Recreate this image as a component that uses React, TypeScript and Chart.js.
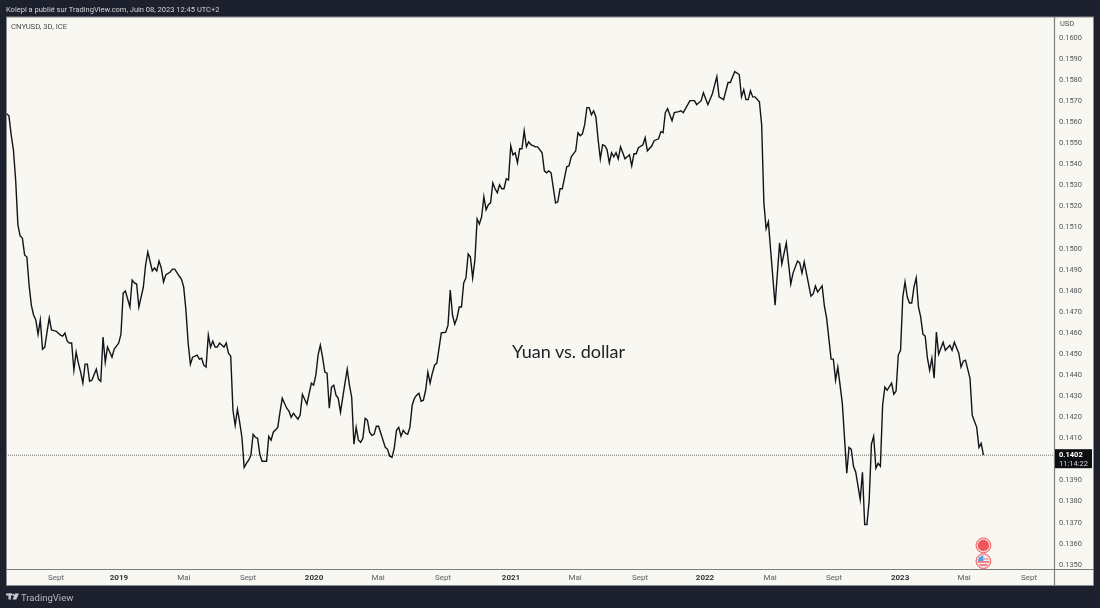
import React, { useEffect, useRef } from "react";
import { Chart, registerables } from "chart.js";

Chart.register(...registerables);

const barIndex = [
  0, 1, 2, 3, 4, 5, 6, 7, 8, 9, 10, 11, 12, 13, 14, 15, 16, 17, 18, 19, 20, 21, 22, 24, 25, 26, 27, 28, 29, 30,
  31, 32, 33, 34, 35, 36, 37, 38, 40, 41, 42, 43, 44, 45, 47, 48, 50, 51, 52, 53, 55, 56, 57, 58, 59, 61, 62, 63, 65, 66,
  67, 68, 69, 70, 71, 73, 74, 75, 77, 78, 79, 80, 81, 82, 83, 85, 86, 87, 88, 89, 90, 91, 92, 93, 94, 95, 97, 98, 99, 100,
  101, 102, 103, 104, 105, 106, 107, 108, 109, 110, 111, 112, 113, 114, 116, 117, 118, 119, 121, 122, 123, 125, 126, 127, 128, 130, 131, 132, 134, 136,
  137, 138, 139, 140, 141, 142, 143, 144, 145, 146, 147, 148, 149, 151, 152, 153, 154, 155, 156, 157, 158, 159, 160, 161, 162, 163, 164, 165, 166, 167,
  169, 170, 171, 172, 173, 174, 175, 176, 177, 178, 179, 180, 181, 182, 183, 184, 185, 186, 187, 188, 189, 190, 191, 192, 193, 194, 196, 197, 198, 199,
  200, 201, 202, 203, 204, 205, 206, 207, 208, 209, 210, 211, 212, 213, 214, 215, 216, 217, 218, 219, 220, 221, 222, 223, 224, 225, 226, 227, 228, 229,
  230, 231, 232, 233, 234, 236, 237, 239, 240, 241, 242, 243, 244, 245, 246, 247, 248, 250, 251, 252, 254, 255, 256, 257, 258, 259, 260, 261, 262, 263,
  264, 265, 266, 267, 268, 269, 270, 271, 272, 273, 274, 275, 276, 278, 279, 280, 281, 282, 284, 285, 286, 288, 289, 291, 292, 293, 294, 295, 297, 298,
  300, 301, 302, 303, 305, 307, 308, 310, 311, 313, 315, 317, 318, 320, 322, 323, 325, 327, 328, 329, 330, 331, 332, 333, 334, 336, 337, 338, 339, 340,
  341, 343, 345, 346, 348, 350, 351, 353, 354, 355, 356, 359, 360, 361, 362, 364, 365, 366, 368, 369, 370, 371, 373, 375, 376, 377, 378, 379, 381, 382,
  383, 384, 385, 386, 387, 388, 389, 390, 391, 392, 393, 395, 396, 397, 398, 399, 400, 401, 402, 403, 404, 405, 406, 407, 408, 409, 410, 411, 412, 413,
  414, 415, 416, 418, 419, 421, 422, 423, 425, 426, 427, 428, 430, 431, 433, 434, 435, 436,
];

const closePrices = [
  0.1564, 0.1563, 0.1554, 0.15469, 0.15326, 0.15113, 0.1506, 0.1505, 0.1497, 0.1496, 0.14827, 0.14732, 0.14685, 0.14661, 0.14594, 0.14661, 0.14523, 0.14533, 0.14604, 0.14671, 0.14614, 0.14611, 0.14609, 0.1459, 0.14585, 0.14599, 0.14561, 0.14552, 0.14552, 0.14423,
  0.14509, 0.14457, 0.14414, 0.14362, 0.14452, 0.14452, 0.14371, 0.14376, 0.14428, 0.1438, 0.14371, 0.1458, 0.14461, 0.14533, 0.14485, 0.14523, 0.14552, 0.14594, 0.14789, 0.14799, 0.14723, 0.14851, 0.14837, 0.14832, 0.14723, 0.14817, 0.14922, 0.14984, 0.14894, 0.14908,
  0.14894, 0.14941, 0.14908, 0.14842, 0.14875, 0.14889, 0.14903, 0.14903, 0.1487, 0.14856, 0.14818, 0.14709, 0.14552, 0.14452, 0.14485, 0.14495, 0.14476, 0.1448, 0.14447, 0.14438, 0.1459, 0.14533, 0.14561, 0.14533, 0.14533, 0.14552, 0.14533, 0.14552, 0.14504, 0.1449,
  0.14233, 0.14162, 0.14238, 0.14176, 0.14105, 0.13962, 0.13981, 0.13996, 0.14019, 0.14119, 0.14105, 0.141, 0.14024, 0.13991, 0.13991, 0.1411, 0.14091, 0.14129, 0.14152, 0.14224, 0.1429, 0.14243, 0.14229, 0.142, 0.14219, 0.14191, 0.1421, 0.14309, 0.14262, 0.14362,
  0.14352, 0.144, 0.14495, 0.14542, 0.14485, 0.14414, 0.14409, 0.14243, 0.14343, 0.14352, 0.14305, 0.1429, 0.14224, 0.14362, 0.14428, 0.14352, 0.14295, 0.14072, 0.14152, 0.14091, 0.14081, 0.141, 0.14195, 0.14186, 0.14129, 0.14114, 0.14119, 0.14157, 0.14157, 0.14124,
  0.14057, 0.14048, 0.14015, 0.1401, 0.14053, 0.14138, 0.14152, 0.1411, 0.14138, 0.14124, 0.14119, 0.14152, 0.14257, 0.1429, 0.14305, 0.14314, 0.14276, 0.14281, 0.14328, 0.14414, 0.14362, 0.14409, 0.14447, 0.14457, 0.14528, 0.146, 0.14604, 0.14637, 0.14804, 0.14685,
  0.14642, 0.14671, 0.14723, 0.14723, 0.14837, 0.14861, 0.14975, 0.1496, 0.14861, 0.14946, 0.15141, 0.15117, 0.15151, 0.15246, 0.15184, 0.15208, 0.15217, 0.15312, 0.15284, 0.15265, 0.15303, 0.15284, 0.15284, 0.15331, 0.15326, 0.15488, 0.15445, 0.15455, 0.15407, 0.15474,
  0.15474, 0.15559, 0.15483, 0.15507, 0.15493, 0.15483, 0.15483, 0.15455, 0.15369, 0.1536, 0.15369, 0.1536, 0.15288, 0.15217, 0.15222, 0.15284, 0.15284, 0.15388, 0.15393, 0.15436, 0.15464, 0.1555, 0.15536, 0.15545, 0.15588, 0.15669, 0.15669, 0.15635, 0.15654, 0.15626,
  0.15517, 0.15426, 0.15493, 0.15488, 0.15469, 0.15407, 0.15455, 0.15436, 0.15455, 0.15426, 0.15483, 0.15455, 0.15426, 0.15445, 0.15393, 0.1545, 0.1545, 0.15479, 0.15493, 0.15526, 0.15464, 0.15488, 0.15512, 0.15521, 0.15555, 0.1555, 0.15645, 0.15664, 0.15607, 0.15645,
  0.1565, 0.15654, 0.15645, 0.15664, 0.15702, 0.15702, 0.15683, 0.15702, 0.1574, 0.15683, 0.15735, 0.15816, 0.1572, 0.15707, 0.15788, 0.15788, 0.1584, 0.15826, 0.1572, 0.15754, 0.15707, 0.15707, 0.15749, 0.1572, 0.1572, 0.15697, 0.15588, 0.15217, 0.15094, 0.15127,
  0.14994, 0.14732, 0.15027, 0.14927, 0.15027, 0.14832, 0.14884, 0.14941, 0.14932, 0.14884, 0.14937, 0.14775, 0.14785, 0.14823, 0.14794, 0.14823, 0.14728, 0.1467, 0.14476, 0.14476, 0.14376, 0.14438, 0.14267, 0.13934, 0.14057, 0.14048, 0.13967, 0.13939, 0.1381, 0.13939,
  0.13691, 0.13691, 0.13805, 0.14072, 0.1411, 0.13958, 0.13981, 0.13967, 0.14257, 0.14343, 0.14328, 0.14362, 0.14309, 0.14324, 0.14495, 0.14518, 0.1477, 0.14842, 0.1477, 0.14742, 0.14742, 0.14818, 0.14861, 0.14723, 0.14675, 0.14594, 0.14585, 0.1448, 0.14423, 0.1448,
  0.14385, 0.14604, 0.14499, 0.14556, 0.14518, 0.14542, 0.14518, 0.14556, 0.14504, 0.14438, 0.14466, 0.14471, 0.14385, 0.14209, 0.14152, 0.14057, 0.14076, 0.1402,
];

const lastPrice = 0.1402;
const countdown = "11:14:22";
const xTickBars = [22, 50.1, 79.1, 107.7, 137.2, 165.8, 194.8, 225.1, 253.7, 282.7, 311.7, 340.8, 369.3, 398.8, 427.4, 456.4];
const xTickLabels = ["Sept", "2019", "Mai", "Sept", "2020", "Mai", "Sept", "2021", "Mai", "Sept", "2022", "Mai", "Sept", "2023", "Mai", "Sept"];
const eventBar = 436;
const eventPrices = [0.13592, 0.13517];

const FONT = "Roboto, 'Liberation Sans', sans-serif";
const DARK = "#1c212d";
const PANEL = "#f8f7f2";
const FRAME = "#8a8c90";

const framePlugin = {
  id: "frame",
  beforeDraw(chart: any) {
    const c = chart.ctx;
    c.save();
    c.fillStyle = DARK;
    c.fillRect(0, 0, 1100, 608);
    c.fillStyle = PANEL;
    c.fillRect(6, 17, 1088, 569);
    c.strokeStyle = FRAME;
    c.lineWidth = 1;
    c.strokeRect(6.5, 17, 1087, 568.5);
    c.restore();
  },
  afterDraw(chart: any) {
    const c = chart.ctx;
    const { x, y } = chart.scales;
    const { left, right, bottom } = chart.chartArea;
    c.save();
    c.strokeStyle = "#7b7d81";
    c.lineWidth = 1.2;
    c.beginPath();
    c.moveTo(left, bottom + 0.5);
    c.lineTo(1094, bottom + 0.5);
    c.moveTo(right + 0.5, 17);
    c.lineTo(right + 0.5, 585);
    c.stroke();

    const py = y.getPixelForValue(lastPrice);
    c.fillStyle = "#0c0e12";
    c.fillRect(right + 1, py - 6, 37, 19);
    c.textBaseline = "middle";
    c.textAlign = "left";
    c.fillStyle = "#ffffff";
    c.font = `bold 7.5px ${FONT}`;
    c.fillText(lastPrice.toFixed(4), 1059, py - 0.5);
    c.fillStyle = "#d6d6d6";
    c.font = `7.5px ${FONT}`;
    c.fillText(countdown, 1059, py + 8.5);

    c.fillStyle = "#4a4c50";
    c.fillText("USD", 1060, 24.5);

    const ex = x.getPixelForValue(eventBar);
    eventPrices.forEach((p, i) => {
      const ey = y.getPixelForValue(p);
      c.fillStyle = "#f6d3d3";
      c.beginPath();
      c.arc(ex, ey, 7.6, 0, Math.PI * 2);
      c.fill();
      c.strokeStyle = "#ef5d60";
      c.lineWidth = 1;
      c.beginPath();
      c.arc(ex, ey, 7.4, 0, Math.PI * 2);
      c.stroke();
      c.save();
      c.beginPath();
      c.arc(ex, ey, 5.6, 0, Math.PI * 2);
      c.clip();
      if (i === 0) {
        c.fillStyle = "#f0555a";
        c.fillRect(ex - 7, ey - 7, 14, 14);
      } else {
        c.fillStyle = "#f4f0f0";
        c.fillRect(ex - 7, ey - 7, 14, 14);
        c.fillStyle = "#ef5d60";
        c.fillRect(ex - 7, ey, 14, 1.5);
        c.fillRect(ex - 7, ey + 3, 14, 1.5);
        c.fillStyle = "#f09a9c";
        c.fillRect(ex, ey - 3, 7, 1.5);
        c.fillStyle = "#5a9fe8";
        c.fillRect(ex - 7, ey - 7, 7, 7);
      }
      c.restore();
    });

    // TradingView mark in the footer
    c.fillStyle = "#c9cbd0";
    c.fillRect(6, 593.5, 6, 2);
    c.fillRect(8.5, 593.5, 2.4, 6);
    c.beginPath();
    c.arc(13.2, 594.8, 1.1, 0, Math.PI * 2);
    c.fill();
    c.beginPath();
    c.moveTo(15, 593.5);
    c.lineTo(19, 593.5);
    c.lineTo(16.2, 599.5);
    c.lineTo(12.6, 599.5);
    c.closePath();
    c.fill();
    c.restore();
  },
};

const textStyle = (s: React.CSSProperties): React.CSSProperties => ({
  position: "absolute",
  whiteSpace: "nowrap",
  lineHeight: 1,
  ...s,
});

export default function App() {
  const ref = useRef<HTMLCanvasElement | null>(null);

  useEffect(() => {
    document.body.style.margin = "0";
    document.body.style.background = DARK;
    const chart = new Chart(ref.current as HTMLCanvasElement, {
      type: "line",
      data: {
        datasets: [
          {
            label: "CNYUSD",
            data: barIndex.map((b, i) => ({ x: b, y: closePrices[i] })),
            borderColor: "#12141a",
            borderWidth: 1.4,
            pointRadius: 0,
            tension: 0,
            order: 1,
          },
          {
            label: "Dernier",
            data: [
              { x: -0.31, y: lastPrice },
              { x: 467.5, y: lastPrice },
            ],
            borderColor: "#6b6d70",
            borderWidth: 1,
            borderDash: [1, 1],
            pointRadius: 0,
            order: 2,
          },
        ],
      },
      options: {
        responsive: false,
        animation: false,
        devicePixelRatio: 1,
        layout: { padding: { left: 6, top: 17, right: 6, bottom: 22 } },
        plugins: { legend: { display: false }, tooltip: { enabled: false } },
        scales: {
          x: {
            type: "linear",
            min: -0.31,
            max: 467.5,
            grid: { display: false, drawTicks: false },
            border: { display: false },
            afterBuildTicks: (s: any) => {
              s.ticks = xTickBars.map((value) => ({ value }));
            },
            afterFit: (s: any) => {
              s.height = 17;
            },
            ticks: {
              autoSkip: false,
              maxRotation: 0,
              padding: 4,
              color: (ctx: any) => (/^\d/.test(xTickLabels[ctx.index] ?? "") ? "#33353a" : "#5c5e63"),
              font: (ctx: any) => ({
                family: FONT,
                size: 8,
                weight: /^\d/.test(xTickLabels[ctx.index] ?? "") ? "bold" : "normal",
              }),
              callback: (_v: any, i: number) => xTickLabels[i],
            },
          },
          y: {
            type: "linear",
            position: "right",
            min: 0.1348,
            max: 0.16099,
            grid: { display: false, drawTicks: false },
            border: { display: false },
            afterFit: (s: any) => {
              s.width = 40;
            },
            afterBuildTicks: (s: any) => {
              const out = [];
              for (let t = 1350; t <= 1600; t += 10) out.push({ value: t / 10000 });
              s.ticks = out;
            },
            ticks: {
              autoSkip: false,
              padding: 5,
              align: "center",
              color: "#55575c",
              font: { family: FONT, size: 7.5 },
              callback: (v: any) => Number(v).toFixed(4),
            },
          },
        },
      },
      plugins: [framePlugin],
    } as any);
    return () => chart.destroy();
  }, []);

  return (
    <div style={{ position: "relative", width: 1100, height: 608, overflow: "hidden", background: DARK }}>
      <canvas ref={ref} width={1100} height={608} style={{ display: "block" }} />
      <div style={textStyle({ left: 6, top: 5, font: `7.5px ${FONT}`, color: "#d4d5d8" })}>
        Kolepi a publié sur TradingView.com, Juin 08, 2023 12:45 UTC+2
      </div>
      <div style={textStyle({ left: 11, top: 22, font: `7.7px ${FONT}`, color: "#4a4c50" })}>CNYUSD, 3D, ICE</div>
      <div style={textStyle({ left: 512, top: 340, font: `18px Lato`, color: "#1d1f24" })}>Yuan vs. dollar</div>
      <div style={textStyle({ left: 21, top: 592, font: `9.5px ${FONT}`, color: "#b9bbc0" })}>TradingView</div>
    </div>
  );
}
